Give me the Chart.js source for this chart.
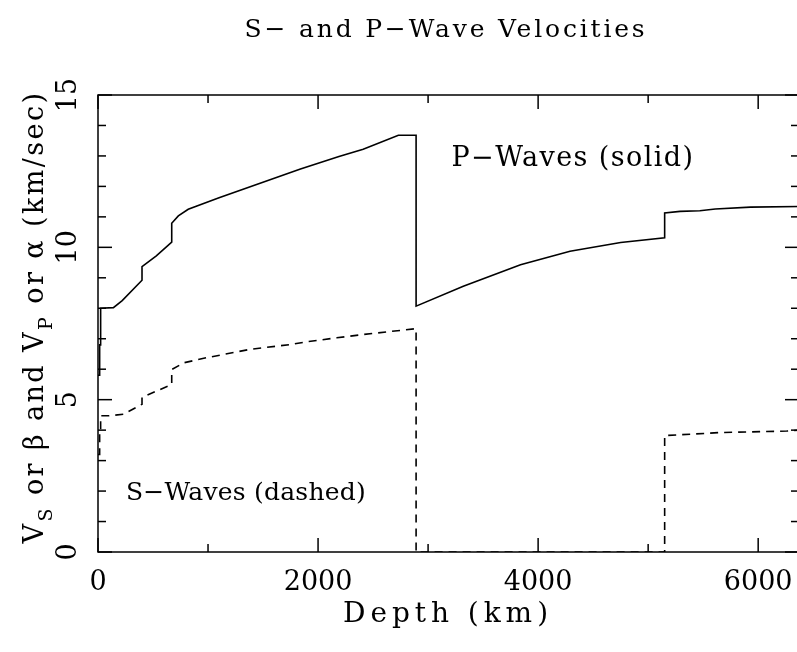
<!DOCTYPE html>
<html>
<head>
<meta charset="utf-8">
<title>S- and P-Wave Velocities</title>
<script src="https://cdn.jsdelivr.net/npm/chart.js@4"></script>
<style>
  html, body { margin: 0; padding: 0; background: #fff; overflow: hidden; }
  canvas { display: block; }
</style>
</head>
<body>
<canvas id="grafica" width="801" height="652"></canvas>
<script>
// profundidad (km) y velocidad (km/s)
const depthP = [0, 15, 15, 24, 24, 140, 220, 400, 400, 530, 670, 670, 730, 820, 1100, 1840, 2190, 2410, 2730, 2891, 2891, 3320, 3840, 4290, 4750, 5150, 5150, 5290, 5470, 5610, 5930, 6371];
const velP = [5.8, 5.8, 6.8, 6.8, 8.0, 8.02, 8.25, 8.92, 9.37, 9.72, 10.17, 10.79, 11.03, 11.25, 11.63, 12.57, 12.98, 13.22, 13.68, 13.68, 8.07, 8.72, 9.43, 9.87, 10.16, 10.31, 11.13, 11.18, 11.2, 11.26, 11.32, 11.34];
const depthS = [0, 15, 15, 24, 24, 90, 230, 400, 400, 530, 670, 670, 780, 990, 1380, 1750, 1900, 2170, 2410, 2891, 2891, 5150, 5150, 5650, 6260, 6371];
const velS = [3.2, 3.2, 3.9, 3.9, 4.47, 4.47, 4.52, 4.85, 5.07, 5.28, 5.5, 5.99, 6.21, 6.38, 6.65, 6.81, 6.9, 7.03, 7.14, 7.33, 0, 0, 3.82, 3.92, 3.97, 4.0];

const xTicks = [0, 2000, 4000, 6000];
const xMinorTicks = [1000, 3000, 5000];
const yTicks = [0, 5, 10, 15];
const yMinorTicks = [1, 2, 3, 4, 6, 7, 8, 9, 11, 12, 13, 14];

const titulo = 'S\u2212 and P\u2212Wave Velocities';
const etiquetaP = 'P\u2212Waves (solid)';
const etiquetaS = 'S\u2212Waves (dashed)';
const tituloX = 'Depth (km)';
const tituloY = [
  { t: 'V' }, { t: 'S', sub: true }, { t: ' or \u03b2 and V' }, { t: 'P', sub: true }, { t: ' or \u03b1 (km/sec)' }
];

const FUENTE = '"DejaVu Serif", serif';

// texto con espaciado ajustado a un ancho dado (cx = centro, cy = linea base)
function escribir(ctx, partes, cx, cy, ancho, size, girar) {
  ctx.save();
  ctx.translate(cx, cy);
  if (girar) ctx.rotate(-Math.PI / 2);
  const normal = size + 'px ' + FUENTE;
  const chica = Math.round(size * 0.72) + 'px ' + FUENTE;
  ctx.letterSpacing = '0px';
  let nat = 0, n = 0;
  partes.forEach(p => {
    ctx.font = p.sub ? chica : normal;
    nat += ctx.measureText(p.t).width;
    n += [...p.t].length;
  });
  const esp = Math.max(0, (ancho - nat) / n);
  ctx.letterSpacing = esp + 'px';
  ctx.textBaseline = 'alphabetic';
  ctx.textAlign = 'left';
  ctx.fillStyle = '#000';
  let xx = -ancho / 2;
  partes.forEach(p => {
    ctx.font = p.sub ? chica : normal;
    ctx.fillText(p.t, xx, p.sub ? size * 0.32 : 0);
    xx += ctx.measureText(p.t).width;
  });
  ctx.restore();
}

const marco = {
  id: 'marco',
  afterDraw(chart) {
    const { ctx, chartArea: a, scales: { x, y } } = chart;
    ctx.save();
    ctx.strokeStyle = '#000';
    ctx.lineWidth = 1.5;
    ctx.strokeRect(a.left, a.top, a.right - a.left, a.bottom - a.top);

    function linea(x1, y1, x2, y2) {
      ctx.beginPath(); ctx.moveTo(x1, y1); ctx.lineTo(x2, y2); ctx.stroke();
    }
    function marcaX(v, largo) {
      const px = x.getPixelForValue(v);
      linea(px, a.bottom, px, a.bottom - largo);
      linea(px, a.top, px, a.top + largo);
    }
    function marcaY(v, largo) {
      const py = y.getPixelForValue(v);
      linea(a.left, py, a.left + largo, py);
      linea(a.right, py, a.right - largo, py);
    }
    xTicks.forEach(v => marcaX(v, 14));
    xMinorTicks.forEach(v => marcaX(v, 8));
    yTicks.forEach(v => marcaY(v, 14));
    yMinorTicks.forEach(v => marcaY(v, 8));
    ctx.restore();

    escribir(ctx, [{ t: titulo }], 446, 37, 403, 25, false);
    escribir(ctx, [{ t: etiquetaP }], 573, 166, 243, 27, false);
    escribir(ctx, [{ t: etiquetaS }], 246, 500, 240, 25, false);
    escribir(ctx, [{ t: tituloX }], 448, 622, 210, 28, false);
    escribir(ctx, tituloY, 43, 317, 453, 27, true);
  }
};

const ctx = document.getElementById('grafica').getContext('2d');
new Chart(ctx, {
  type: 'line',
  data: {
    datasets: [
      {
        label: 'P-Waves',
        data: depthP.map((d, i) => ({ x: d, y: velP[i] })),
        borderColor: '#000',
        borderWidth: 1.6,
        pointRadius: 0,
        fill: false,
        tension: 0
      },
      {
        label: 'S-Waves',
        data: depthS.map((d, i) => ({ x: d, y: velS[i] })),
        borderColor: '#000',
        borderWidth: 1.6,
        borderDash: [8, 6],
        pointRadius: 0,
        fill: false,
        tension: 0
      }
    ]
  },
  options: {
    responsive: false,
    animation: false,
    layout: { padding: { top: 95, right: 2, left: 0, bottom: 0 } },
    plugins: {
      legend: { display: false },
      tooltip: { enabled: false },
      title: { display: false }
    },
    scales: {
      x: {
        type: 'linear',
        min: 0,
        max: 6371,
        grid: { display: false },
        border: { display: false },
        afterBuildTicks: s => { s.ticks = xTicks.map(v => ({ value: v })); },
        afterFit: s => { s.height = 100; s.paddingLeft = 0; s.paddingRight = 0; },
        ticks: {
          color: '#000',
          font: { family: FUENTE, size: 27 },
          padding: 7,
          maxRotation: 0,
          minRotation: 0,
          callback: v => String(v)
        }
      },
      y: {
        min: 0,
        max: 15,
        grid: { display: false },
        border: { display: false },
        afterBuildTicks: s => { s.ticks = yTicks.map(v => ({ value: v })); },
        afterFit: s => { s.width = 98; s.paddingTop = 0; s.paddingBottom = 0; },
        ticks: {
          color: '#000',
          font: { family: FUENTE, size: 27 },
          minRotation: 90,
          maxRotation: 90,
          crossAlign: 'center',
          padding: 4,
          callback: v => String(v)
        }
      }
    }
  },
  plugins: [marco]
});
</script>
</body>
</html>
